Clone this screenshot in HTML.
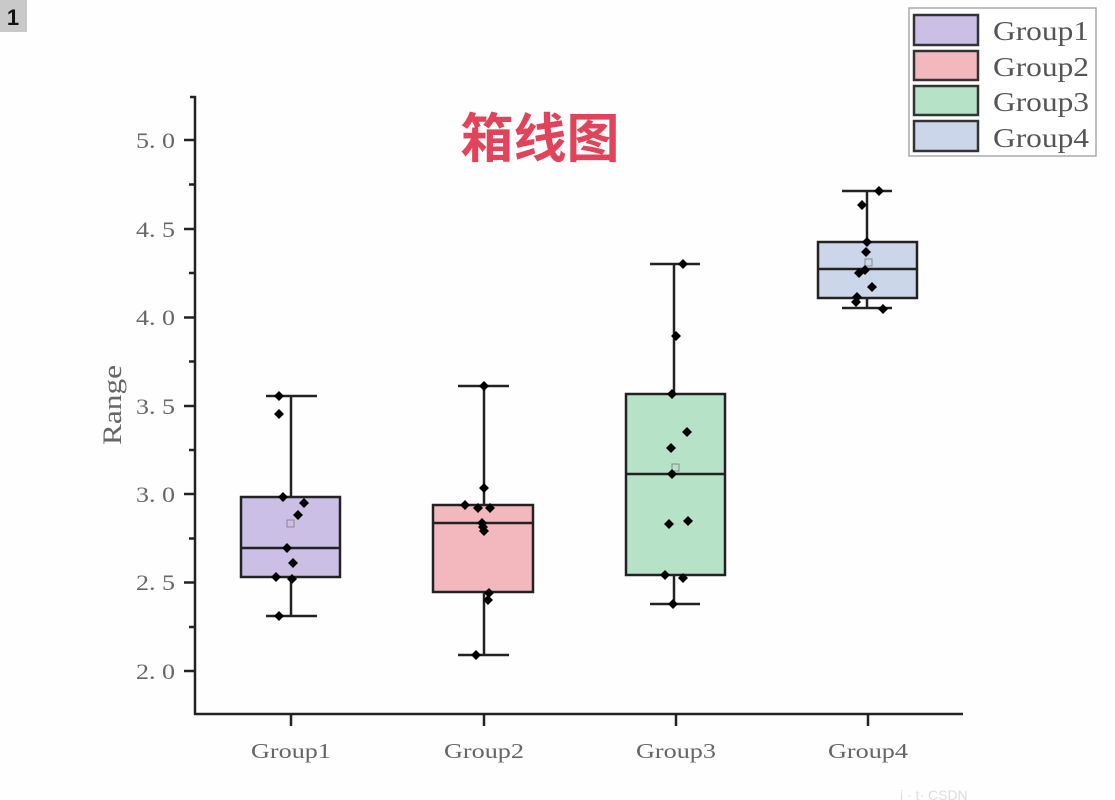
<!DOCTYPE html>
<html><head><meta charset="utf-8"><style>
html,body{margin:0;padding:0;background:#fff;}
svg{display:block;}
</style></head><body>
<svg width="1115" height="800" viewBox="0 0 1115 800" xmlns="http://www.w3.org/2000/svg">
<rect x="0" y="0" width="1115" height="800" fill="#fefefe"/>
<!-- badge -->
<rect x="0" y="0" width="27" height="32" fill="#c9c9c9"/>
<text x="13" y="25" font-family="Liberation Sans, sans-serif" font-weight="bold" font-size="22" text-anchor="middle" fill="#111">1</text>

<!-- title -->
<text x="540" y="157" font-family="Liberation Sans, 'Noto Sans CJK SC', sans-serif" font-weight="bold" font-size="53" text-anchor="middle" fill="#e0435a">箱线图</text>

<!-- axes -->
<g stroke="#222" stroke-width="2.5" fill="none">
<line x1="195" y1="96" x2="195" y2="715"/>
<line x1="194" y1="714" x2="963" y2="714"/>
<line x1="190" y1="97" x2="196" y2="97"/>
</g>
<g stroke="#222" stroke-width="2.5">
<line x1="184" y1="140" x2="195" y2="140"/>
<line x1="184" y1="229" x2="195" y2="229"/>
<line x1="184" y1="317.5" x2="195" y2="317.5"/>
<line x1="184" y1="406" x2="195" y2="406"/>
<line x1="184" y1="494" x2="195" y2="494"/>
<line x1="184" y1="582.5" x2="195" y2="582.5"/>
<line x1="184" y1="671" x2="195" y2="671"/>
<line x1="189" y1="184.5" x2="195" y2="184.5"/>
<line x1="189" y1="273" x2="195" y2="273"/>
<line x1="189" y1="361.5" x2="195" y2="361.5"/>
<line x1="189" y1="450" x2="195" y2="450"/>
<line x1="189" y1="538.5" x2="195" y2="538.5"/>
<line x1="189" y1="627" x2="195" y2="627"/>
<line x1="291" y1="714" x2="291" y2="726"/>
<line x1="484" y1="714" x2="484" y2="726"/>
<line x1="676" y1="714" x2="676" y2="726"/>
<line x1="868" y1="714" x2="868" y2="726"/>
</g>
<g font-family="Liberation Serif, serif" font-size="22" fill="#666" text-anchor="end">
<text x="175" y="148" textLength="39" lengthAdjust="spacingAndGlyphs">5. 0</text>
<text x="175" y="237" textLength="39" lengthAdjust="spacingAndGlyphs">4. 5</text>
<text x="175" y="325" textLength="39" lengthAdjust="spacingAndGlyphs">4. 0</text>
<text x="175" y="414" textLength="39" lengthAdjust="spacingAndGlyphs">3. 5</text>
<text x="175" y="502" textLength="39" lengthAdjust="spacingAndGlyphs">3. 0</text>
<text x="175" y="590" textLength="39" lengthAdjust="spacingAndGlyphs">2. 5</text>
<text x="175" y="679" textLength="39" lengthAdjust="spacingAndGlyphs">2. 0</text>
</g>
<text transform="translate(121,405) rotate(-90)" font-family="Liberation Serif, serif" font-size="26" fill="#666" text-anchor="middle" textLength="80" lengthAdjust="spacingAndGlyphs">Range</text>
<g font-family="Liberation Serif, serif" font-size="21" fill="#666" text-anchor="middle">
<text x="291" y="758" textLength="80" lengthAdjust="spacingAndGlyphs">Group1</text>
<text x="484" y="758" textLength="80" lengthAdjust="spacingAndGlyphs">Group2</text>
<text x="676" y="758" textLength="80" lengthAdjust="spacingAndGlyphs">Group3</text>
<text x="868" y="758" textLength="80" lengthAdjust="spacingAndGlyphs">Group4</text>
</g>

<!-- boxes -->
<g stroke="#222" stroke-width="2.5">
<!-- G1 -->
<line x1="291" y1="396" x2="291" y2="616"/>
<line x1="266" y1="396" x2="317" y2="396"/>
<line x1="266" y1="616" x2="317" y2="616"/>
<rect x="241" y="497" width="99" height="80" fill="#cbbfe6"/>
<line x1="241" y1="548" x2="340" y2="548"/>
<!-- G2 -->
<line x1="484" y1="386" x2="484" y2="655"/>
<line x1="458" y1="386" x2="509" y2="386"/>
<line x1="458" y1="655" x2="509" y2="655"/>
<rect x="433" y="505" width="100" height="87" fill="#f2b8be"/>
<line x1="433" y1="523" x2="533" y2="523"/>
<!-- G3 -->
<line x1="674" y1="264" x2="674" y2="604"/>
<line x1="650" y1="264" x2="700" y2="264"/>
<line x1="650" y1="604" x2="700" y2="604"/>
<rect x="626" y="394" width="99" height="181" fill="#b6e3c8"/>
<line x1="626" y1="474" x2="725" y2="474"/>
<!-- G4 -->
<line x1="867" y1="191" x2="867" y2="308"/>
<line x1="842" y1="191" x2="892" y2="191"/>
<line x1="842" y1="308" x2="892" y2="308"/>
<rect x="818" y="242" width="99" height="56" fill="#cbd6ea"/>
<line x1="818" y1="269" x2="917" y2="269"/>
</g>

<!-- mean squares -->
<g fill="none" stroke="#888" stroke-width="1">
<rect x="287" y="520" width="7" height="7"/>
<rect x="672" y="464" width="7" height="7"/>
<rect x="865" y="259" width="7" height="7"/>
</g>

<!-- points -->
<defs><path id="d" d="M0,-5 L5,0 L0,5 L-5,0 Z" fill="#000"/></defs>
<g>
<use href="#d" x="279" y="396"/><use href="#d" x="279" y="414"/><use href="#d" x="283" y="497"/><use href="#d" x="304" y="503"/><use href="#d" x="298" y="515"/><use href="#d" x="287" y="548"/><use href="#d" x="293" y="563"/><use href="#d" x="276" y="577"/><use href="#d" x="292" y="579"/><use href="#d" x="279" y="616"/>
<use href="#d" x="484" y="386"/><use href="#d" x="484" y="488"/><use href="#d" x="465" y="505"/><use href="#d" x="478" y="508"/><use href="#d" x="490" y="508"/><use href="#d" x="482" y="523"/><use href="#d" x="483" y="527"/><use href="#d" x="484" y="531"/><use href="#d" x="489" y="593"/><use href="#d" x="488" y="600"/><use href="#d" x="476" y="655"/>
<use href="#d" x="683" y="264"/><use href="#d" x="676" y="336"/><use href="#d" x="672" y="394"/><use href="#d" x="687" y="432"/><use href="#d" x="671" y="448"/><use href="#d" x="672" y="474"/><use href="#d" x="669" y="524"/><use href="#d" x="688" y="521"/><use href="#d" x="665" y="575"/><use href="#d" x="683" y="578"/><use href="#d" x="673" y="604"/>
<use href="#d" x="879" y="191"/><use href="#d" x="862" y="205"/><use href="#d" x="867" y="242"/><use href="#d" x="866" y="252"/><use href="#d" x="865" y="270"/><use href="#d" x="859" y="273"/><use href="#d" x="872" y="287"/><use href="#d" x="857" y="297"/><use href="#d" x="856" y="302"/><use href="#d" x="883" y="309"/>
</g>

<!-- legend -->
<rect x="909" y="8" width="187" height="148" fill="#fff" stroke="#aaa" stroke-width="1.5"/>
<g stroke="#333" stroke-width="2.5">
<rect x="914" y="15" width="64" height="30" fill="#cbbfe6"/>
<rect x="914" y="51" width="64" height="29" fill="#f2b8be"/>
<rect x="914" y="86" width="64" height="29" fill="#b6e3c8"/>
<rect x="914" y="121" width="64" height="30" fill="#cbd6ea"/>
</g>
<g font-family="Liberation Serif, serif" font-size="27" fill="#555">
<text x="993" y="40" textLength="96" lengthAdjust="spacingAndGlyphs">Group1</text>
<text x="993" y="76" textLength="96" lengthAdjust="spacingAndGlyphs">Group2</text>
<text x="993" y="111" textLength="96" lengthAdjust="spacingAndGlyphs">Group3</text>
<text x="993" y="147" textLength="96" lengthAdjust="spacingAndGlyphs">Group4</text>
</g>

<!-- faint watermark -->
<text x="900" y="800" font-family="Liberation Sans, sans-serif" font-size="14" fill="#ddd">i  · t· CSDN</text>
</svg>
</body></html>
